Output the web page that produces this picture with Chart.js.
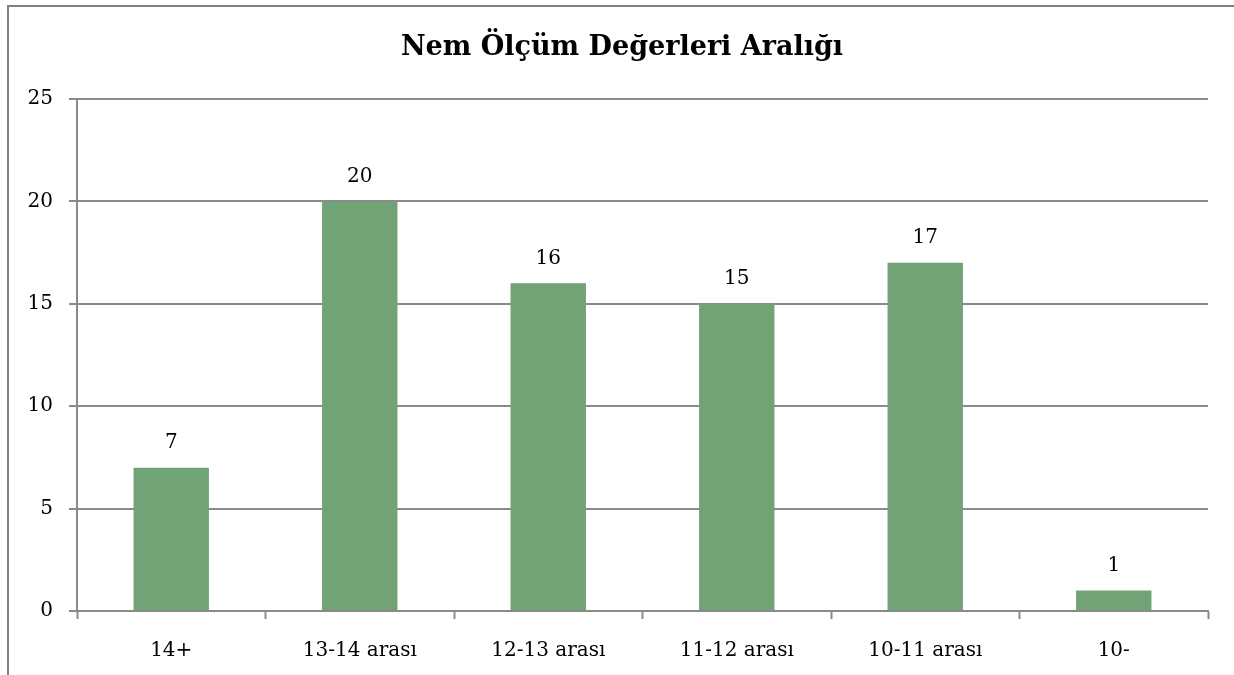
<!DOCTYPE html>
<html>
<head>
<meta charset="utf-8">
<script src="https://cdn.jsdelivr.net/npm/chart.js@4"></script>
<style>
  html, body { margin: 0; padding: 0; background: #fff; }
  #wrap { position: relative; width: 1234px; height: 675px; overflow: hidden; }
  #frame { position: absolute; left: 7px; top: 5px; width: 1300px; height: 700px;
           border-left: 2px solid #7f7f7f; border-top: 2px solid #7f7f7f; }
  canvas { position: absolute; left: 0; top: 0; }
</style>
</head>
<body>
<div id="wrap">
  <div id="frame"></div>
  <canvas id="nemChart" width="1234" height="675"></canvas>
</div>
<script>
// chart data
const categories = ['14+', '13-14 arası', '12-13 arası', '11-12 arası', '10-11 arası', '10-'];
const counts = [7, 20, 16, 15, 17, 1];
const yTicks = [0, 5, 10, 15, 20, 25];
const chartTitle = 'Nem Ölçüm Değerleri Aralığı';

const serif = '"DejaVu Serif", "Liberation Serif", serif';
const gridColor = '#8a8a8a';

// draws the number above each bar
const valueLabels = {
    id: 'valueLabels',
    afterDatasetsDraw(chart) {
        const ctx = chart.ctx;
        const meta = chart.getDatasetMeta(0);
        ctx.save();
        ctx.font = '20px ' + serif;
        ctx.fillStyle = '#000';
        ctx.textAlign = 'center';
        ctx.textBaseline = 'middle';
        meta.data.forEach((bar, i) => {
            ctx.fillText(String(counts[i]), bar.x, bar.y - 25);
        });
        ctx.restore();
    }
};

// title is centred on the whole frame, not on the plot, so draw it here
const frameTitle = {
    id: 'frameTitle',
    afterDraw(chart) {
        const ctx = chart.ctx;
        ctx.save();
        ctx.font = 'bold 27px ' + serif;
        ctx.fillStyle = '#000';
        ctx.textAlign = 'center';
        ctx.textBaseline = 'middle';
        ctx.fillText(chartTitle, 622, 48);
        ctx.restore();
    }
};

const ctx = document.getElementById('nemChart').getContext('2d');

new Chart(ctx, {
    type: 'bar',
    data: {
        labels: categories,
        datasets: [{
            data: counts,
            backgroundColor: '#71a376',
            borderWidth: 0,
            categoryPercentage: 1,
            barPercentage: 0.4
        }]
    },
    options: {
        responsive: false,
        animation: false,
        layout: { padding: { left: 0, right: 26, top: 99, bottom: 0 } },
        plugins: {
            legend: { display: false },
            tooltip: { enabled: false },
            title: { display: false }
        },
        scales: {
            x: {
                offset: true,
                afterFit(scale) { scale.height = 64; },
                grid: {
                    offset: true,
                    drawOnChartArea: false,
                    drawTicks: true,
                    tickLength: 8,
                    tickWidth: 2,
                    tickColor: gridColor
                },
                border: { display: true, color: gridColor, width: 2 },
                ticks: {
                    color: '#000',
                    padding: 20,
                    maxRotation: 0,
                    font: { family: serif, size: 20 }
                }
            },
            y: {
                min: 0,
                max: 25,
                afterFit(scale) { scale.width = 77; },
                afterBuildTicks(scale) {
                    scale.ticks = yTicks.map(v => ({ value: v }));
                },
                grid: {
                    color: gridColor,
                    lineWidth: 2,
                    tickLength: 8
                },
                border: { display: true, color: gridColor, width: 2 },
                ticks: {
                    color: '#000',
                    padding: 16,
                    font: { family: serif, size: 20 }
                }
            }
        }
    },
    plugins: [valueLabels, frameTitle]
});
</script>
</body>
</html>
